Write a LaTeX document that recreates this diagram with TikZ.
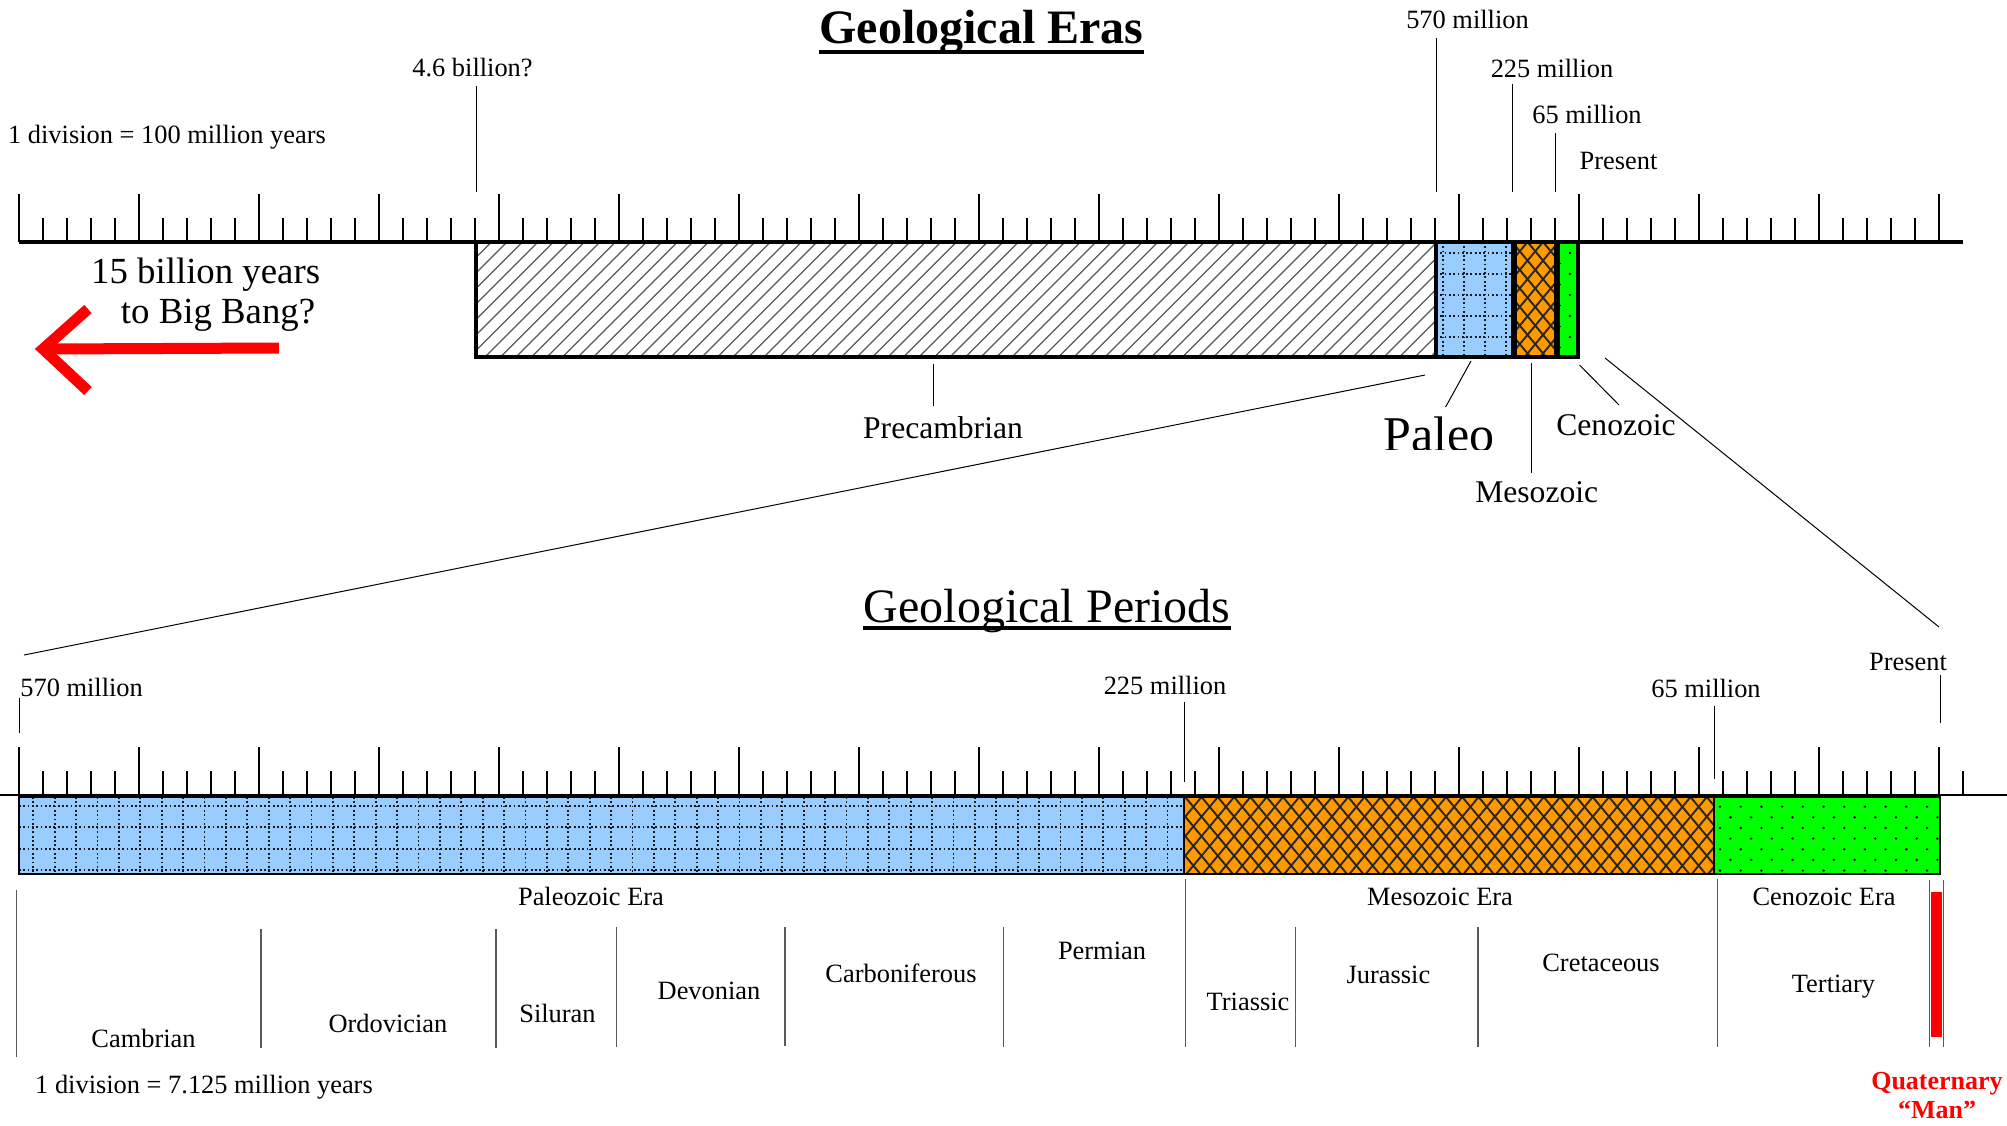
\documentclass[tikz,border=0pt]{standalone}
\usepackage{fontspec}
\setmainfont{Liberation Serif}
\usepackage{tikz}

\definecolor{paleoblue}{HTML}{99CCFF}
\definecolor{mesoorange}{HTML}{FF9900}
\definecolor{cenogreen}{HTML}{00FF00}

\begin{document}
\begin{tikzpicture}[x=0.5pt, y=-0.5pt,
    tick/.style={line width=1.15pt},
    leader/.style={line width=0.5pt},
    divider/.style={line width=0.7pt, black!65},
    lbl/.style={font=\fontsize{13.2}{15}\selectfont, inner sep=0pt},
    eralbl/.style={font=\fontsize{15.8}{18}\selectfont, inner sep=0pt},
    heading/.style={font=\fontsize{24}{28}\selectfont, inner sep=0pt, anchor=base},
    hatchline/.style={line width=0.65pt, black!65},
    dotline/.style={line width=0.9pt, black!90, dash pattern=on 0.9pt off 1.25pt},
    crossline/.style={line width=0.95pt, black!85},
    bigbang/.style={red, line width=5.5pt},
  ]
  \useasboundingbox (0,0) rectangle (2007,1125);
  \fill[white] (0,0) rectangle (2007,1125);

  % ---------- Geological Eras ----------
  \node[heading, font=\bfseries\fontsize{24}{28}\selectfont] (erastitle) at (981.5,43) {Geological Eras};
  \draw[line width=2pt] ([yshift=-4.5pt]erastitle.base west) -- ([yshift=-4.5pt]erastitle.base east);
  \node[lbl] (scaletop) at (167,137) {1 division = 100 million years};

  % scale
  \draw[line width=1.6pt] (19,242) -- (1963,242);
  \foreach \i in {0,...,80}
    \draw[tick] ({19+24*\i},242) -- ++(0,-24);
  \foreach \i in {0,...,16}
    \draw[tick] ({19+120*\i},242) -- ++(0,-48);

  % Precambrian (hatched)
  \begin{scope}
    \clip (476,242) rectangle (1436,357);
    \foreach \a in {361,376.5,...,1440}
      \draw[hatchline] (\a,357) -- ++(115,-115);
  \end{scope}
  \draw[line width=2pt] (476,242) rectangle (1436,357);

  % Paleozoic (dotted grid)
  \fill[paleoblue] (1436,242) rectangle (1513,357);
  \begin{scope}
    \clip (1436,242) rectangle (1513,357);
    \foreach \gx in {1442.7,1463.8,...,1513}
      \draw[dotline] (\gx,242) -- (\gx,357);
    \foreach \gy in {252.7,273.7,...,357}
      \draw[dotline] (1436,\gy) -- (1513,\gy);
  \end{scope}
  \draw[line width=2pt] (1436,242) rectangle (1513,357);

  % Mesozoic (cross hatch)
  \fill[mesoorange] (1515,242) rectangle (1556,357);
  \begin{scope}
    \clip (1515,242) rectangle (1556,357);
    \foreach \a in {1419,1434.5,...,1660}{
      \draw[crossline] (\a,242) -- ++(96,115);
      \draw[crossline] (\a,242) -- ++(-96,115);
    }
  \end{scope}
  \draw[line width=2pt] (1515,242) rectangle (1556,357);

  % Cenozoic (dots)
  \fill[cenogreen] (1558,242) rectangle (1578,357);
  \begin{scope}
    \clip (1558,242) rectangle (1578,357);
    \foreach \gy in {253,274,...,357}{
      \fill (1570,\gy) circle (0.65pt);
      \fill (1559.6,\gy+10.5) circle (0.65pt);
    }
  \end{scope}
  \draw[line width=2pt] (1558,242) rectangle (1578,357);

  % dates above the scale
  \node[lbl] (lab46) at (472.5,68) {4.6 billion?};
  \node[lbl] (lab570) at (1467.5,19) {570 million};
  \node[lbl] (lab225) at (1552,68) {225 million};
  \node[lbl] (lab65) at (1587,114) {65 million};
  \node[lbl] (labnow) at (1618.5,161) {Present};
  \coordinate (m46) at (476,192);
  \coordinate (m570) at (1436.6,192);
  \coordinate (m225) at (1512,192);
  \coordinate (m65) at (1555.6,192);
  \foreach \m/\l/\s in {m46/lab46/4pt, m570/lab570/4.5pt, m225/lab225/3pt, m65/lab65/4.5pt}
    \draw[leader, shorten >=\s] (\m) -- (\m |- \l.south);

  % era names
  \node[eralbl] (precamb) at (943,428) {Precambrian};
  \coordinate (pc) at (933,364);
  \draw[leader, shorten >=5pt] (pc) -- (pc |- precamb.north);
  \begin{scope}
    \clip (1370,400) rectangle (1520,449.5);
    \node[font=\fontsize{25}{30}\selectfont, inner sep=0pt, anchor=base] (paleo) at (1439,451) {Paleo};
  \end{scope}
  \coordinate (pa1) at (1471,361);
  \coordinate (pa2) at (1445.6,407);
  \draw[leader] (pa1) -- (pa2);
  \node[eralbl] (meso) at (1536.7,492) {Mesozoic};
  \coordinate (me) at (1531.7,363);
  \draw[leader, shorten >=4pt] (me) -- (me |- meso.north);
  \node[eralbl] (ceno) at (1616,425) {Cenozoic};
  \coordinate (ce1) at (1579.5,365);
  \coordinate (ce2) at (1619,405);
  \draw[leader] (ce1) -- (ce2);

  % zoom lines
  \coordinate (zl1) at (1425,375);
  \coordinate (zl2) at (24,655);
  \coordinate (zr1) at (1605,358);
  \coordinate (zr2) at (1939,627);
  \draw[leader] (zl1) -- (zl2);
  \draw[leader] (zr1) -- (zr2);

  % Big Bang arrow
  \node[font=\fontsize{18.4}{20}\selectfont, inner sep=0pt, anchor=base east] (bb1) at (320.5,283.5) {15 billion years};
  \node[font=\fontsize{18.4}{20}\selectfont, inner sep=0pt, anchor=base east] (bb2) at (315.6,323.5) {to Big Bang?};
  \coordinate (bbtail) at (279,348);
  \coordinate (bbtip) at (43,349);
  \coordinate (bbup) at (88,309);
  \coordinate (bbdown) at (88,391);
  \draw[bigbang] (bbtail) -- (bbtip);
  \draw[bigbang] (bbup) -- (bbtip) -- (bbdown);

  % ---------- Geological Periods ----------
  \node[heading] (pertitle) at (1047,622) {Geological Periods};
  \draw[line width=1.6pt] ([yshift=-3pt]pertitle.base west) -- ([yshift=-3pt]pertitle.base east);

  % scale
  \draw[line width=1.2pt] (0,795) -- (2007,795);
  \foreach \i in {0,...,81}
    \draw[tick] ({19+24*\i},795) -- ++(0,-24);
  \foreach \i in {0,...,16}
    \draw[tick] ({19+120*\i},795) -- ++(0,-48);

  % Paleozoic
  \fill[paleoblue] (19,797) rectangle (1184,874);
  \begin{scope}
    \clip (19,797) rectangle (1184,874);
    \foreach \gx in {33.3,54.7,...,1184}
      \draw[dotline] (\gx,797) -- (\gx,874);
    \foreach \gy in {806,827.3,...,874}
      \draw[dotline] (19,\gy) -- (1184,\gy);
  \end{scope}
  \draw[line width=1pt] (19,797) rectangle (1184,874);

  % Mesozoic
  \fill[mesoorange] (1184,797) rectangle (1714,874);
  \begin{scope}
    \clip (1184,797) rectangle (1714,874);
    \foreach \a in {1120,1136.3,...,1780}{
      \draw[crossline] (\a,797) -- ++(64,77);
      \draw[crossline] (\a,797) -- ++(-64,77);
    }
  \end{scope}
  \draw[line width=1pt] (1184,797) rectangle (1714,874);

  % Cenozoic
  \fill[cenogreen] (1714,797) rectangle (1940,874);
  \begin{scope}
    \clip (1714,797) rectangle (1940,874);
    \foreach \gx in {1720,1740.7,...,1945}
      \foreach \gy in {806.7,828,...,880}{
        \fill (\gx,\gy) circle (0.7pt);
        \fill (\gx+10.4,\gy-10.7) circle (0.7pt);
      }
  \end{scope}
  \draw[line width=1pt] (1714,797) rectangle (1940,874);

  % dates above the scale
  \node[lbl, anchor=west] (p570) at (20,687) {570 million};
  \node[lbl] (p225) at (1165,685) {225 million};
  \node[lbl] (p65) at (1706,688) {65 million};
  \node[lbl] (pnow) at (1908,662) {Present};
  \coordinate (q570) at (19,733);
  \coordinate (q225) at (1184,782);
  \coordinate (q65) at (1714,779);
  \coordinate (qnow) at (1940,723);
  \foreach \m/\l/\s in {q570/p570/0.5pt, q225/p225/3.5pt, q65/p65/4pt, qnow/pnow/2pt}
    \draw[leader, shorten >=\s] (\m) -- (\m |- \l.south);

  % period divisions
  \foreach \dx/\dt/\db in {16.5/890/1057, 261/929/1048, 496/929/1048, 616.5/927/1047,
      785/927/1046, 1003.5/927/1047, 1185.6/879/1047, 1295.5/927/1047, 1478/927/1047,
      1717.7/879/1047, 1929.3/880/1047, 1943.3/880/1047}
    \draw[divider] (\dx,\dt) -- (\dx,\db);
  \fill[red] (1931,892) rectangle (1942,1037);

  % era and period names
  \node[lbl] (paleoera) at (591,896) {Paleozoic Era};
  \node[lbl] (mesoera) at (1440,897) {Mesozoic Era};
  \node[lbl] (cenoera) at (1824,897) {Cenozoic Era};
  \node[lbl] (cambrian) at (143.5,1038) {Cambrian};
  \node[lbl] (ordovician) at (388,1023) {Ordovician};
  \node[lbl] (siluran) at (557.5,1013) {Siluran};
  \node[lbl] (devonian) at (709,991) {Devonian};
  \node[lbl] (carbon) at (901,973) {Carboniferous};
  \node[lbl] (permian) at (1102,951) {Permian};
  \node[lbl] (triassic) at (1248,1002) {Triassic};
  \node[lbl] (jurassic) at (1388.5,975) {Jurassic};
  \node[lbl] (cretaceous) at (1601,963) {Cretaceous};
  \node[lbl] (tertiary) at (1833.5,987) {Tertiary};
  \node[lbl, red, font=\bfseries\fontsize{13}{14.5}\selectfont, align=center] (quat) at (1937,1096) {Quaternary\\``Man''};
  \node[lbl] (scalebot) at (204,1087) {1 division = 7.125 million years};
\end{tikzpicture}
\end{document}
